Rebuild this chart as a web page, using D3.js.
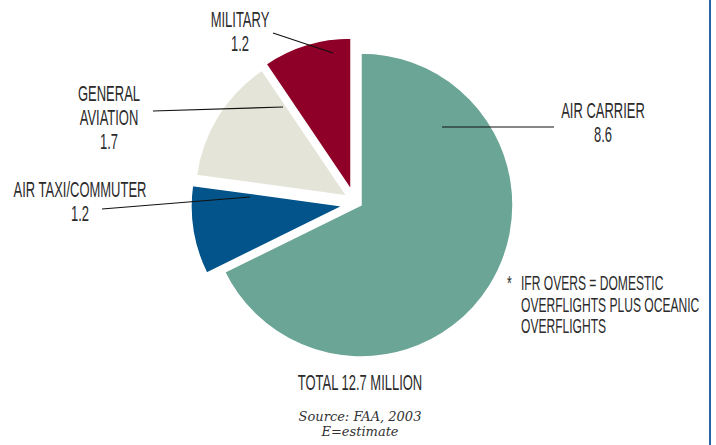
<!DOCTYPE html>
<html>
<head>
<meta charset="utf-8">
<script src="https://cdn.jsdelivr.net/npm/d3@7"></script>
<style>
  html, body { margin: 0; padding: 0; background: #ffffff; }
  svg { display: block; }
</style>
</head>
<body>
<svg id="chart" width="716" height="445"></svg>
<script>
// IFR overs by user category (millions)
const categories = ["AIR CARRIER", "AIR TAXI/COMMUTER", "GENERAL AVIATION", "MILITARY"];
const values = [8.6, 1.2, 1.7, 1.2];
const valueLabels = ["8.6", "1.2", "1.7", "1.2"];
const totalLabel = "TOTAL 12.7 MILLION";
const footnoteLines = ["IFR OVERS = DOMESTIC", "OVERFLIGHTS PLUS OCEANIC", "OVERFLIGHTS"];
const sourceLines = ["Source: FAA, 2003", "E=estimate"];

const colors = ["#6ba596", "#03548b", "#e4e5d8", "#8e0027"];

const svg = d3.select("#chart");
const W = 716, H = 445;
const cx = 361, cy = 205, R = 152;

// Small slices are pulled away from the main slice
const explode = [[0, 0], [-18, 1], [-14, -9], [-10, -15]];

const pie = d3.pie().sort(null).value(d => d.value).startAngle(0).endAngle(2 * Math.PI);
const arc = d3.arc().innerRadius(0).outerRadius(R);

const data = categories.map((c, i) => ({ name: c, value: values[i], idx: i }));
const arcs = pie(data);

const g = svg.append("g").attr("transform", `translate(${cx},${cy})`);
g.selectAll("path.slice")
  .data(arcs)
  .join("path")
  .attr("class", "slice")
  .attr("transform", d => `translate(${explode[d.data.idx][0]},${explode[d.data.idx][1]})`)
  .attr("d", arc)
  .attr("fill", d => colors[d.data.idx])
  .attr("stroke", "#ffffff")
  .attr("stroke-width", 1.5)
  .attr("stroke-linejoin", "miter");

// Right frame rule
svg.append("line")
  .attr("x1", 710).attr("x2", 710).attr("y1", 0).attr("y2", H)
  .attr("stroke", "#2a64a6").attr("stroke-width", 2);

const FONT = "'Liberation Sans', Arial, sans-serif";
const textColor = "#2b2b2b";

// Condensed text: horizontally squeezed glyphs
function ctext(x, y, str, anchor, fs, sx) {
  svg.append("text")
    .attr("transform", `translate(${x},${y}) scale(${sx || 0.59},1)`)
    .attr("text-anchor", anchor || "middle")
    .attr("font-family", FONT)
    .attr("font-size", fs || 22)
    .attr("fill", textColor)
    .text(str);
}

// Label blocks and their leader lines
const labelLayout = [
  { x: 603, y: 118, lines: ["AIR CARRIER"], line: [[442, 127], [554, 127]] },
  { x: 80, y: 197, lines: ["AIR TAXI/COMMUTER"], line: [[102, 209], [250, 197]] },
  { x: 109, y: 101, lines: ["GENERAL", "AVIATION"], line: [[153, 111], [283, 107]] },
  { x: 240, y: 27, lines: ["MILITARY"], line: [[273, 33], [333, 53]] }
];
const LH = 24;

labelLayout.forEach((L, i) => {
  const rows = L.lines.concat([valueLabels[i]]);
  rows.forEach((r, k) => ctext(L.x, L.y + k * LH, r));
  svg.append("line")
    .attr("x1", L.line[0][0]).attr("y1", L.line[0][1])
    .attr("x2", L.line[1][0]).attr("y2", L.line[1][1])
    .attr("stroke", "#111111").attr("stroke-width", 1.2);
});

// Footnote
ctext(507, 290, "*", "start", 21, 0.575);
footnoteLines.forEach((t, k) => ctext(521, 290 + k * 21.5, t, "start", 21, 0.575));

// Total
ctext(360, 390, totalLabel);

// Source
sourceLines.forEach((t, k) => {
  svg.append("text")
    .attr("x", 360).attr("y", 421 + k * 15)
    .attr("text-anchor", "middle")
    .attr("font-family", "'DejaVu Serif', serif")
    .attr("font-style", "italic")
    .attr("font-size", 13)
    .attr("fill", "#333333")
    .text(t);
});
</script>
</body>
</html>
